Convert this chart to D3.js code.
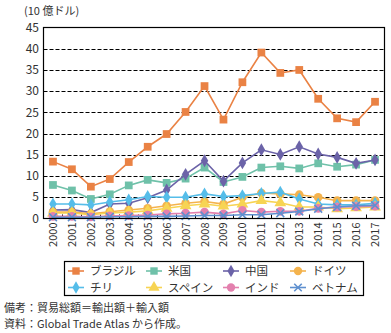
<!DOCTYPE html>
<html>
<head>
<meta charset="utf-8">
<script src="https://cdn.jsdelivr.net/npm/d3@7"></script>
<style>
  body { margin: 0; background: #fff; }
  svg text { font-family: "Noto Sans CJK JP", "Noto Sans", sans-serif; fill: #333; }
</style>
</head>
<body>
<div id="chart-area"></div>
<script>
const years = ["2000","2001","2002","2003","2004","2005","2006","2007","2008","2009",
               "2010","2011","2012","2013","2014","2015","2016","2017"];
const yTicks = [0, 5, 10, 15, 20, 25, 30, 35, 40, 45];

const brazil  = [13.4, 11.6, 7.5, 9.3, 13.3, 16.9, 19.9, 25.1, 31.2, 23.3, 32.1, 39.1, 34.3, 35.0, 28.2, 23.6, 22.7, 27.5];
const usa     = [7.9, 6.6, 4.6, 5.7, 7.8, 9.1, 8.4, 9.4, 12.0, 8.6, 9.8, 12.0, 12.3, 11.8, 13.0, 12.2, 12.7, 13.8];
const china   = [2.0, 2.1, 1.4, 3.4, 3.6, 4.9, 6.7, 10.4, 13.6, 8.8, 13.1, 16.2, 15.1, 16.9, 15.2, 14.4, 13.0, 13.8];
const germany = [1.5, 1.5, 1.1, 1.6, 2.0, 2.4, 3.0, 3.6, 4.0, 3.4, 5.0, 6.0, 5.8, 5.6, 5.0, 4.2, 4.2, 4.2];
const chile   = [3.4, 3.4, 3.2, 3.9, 4.4, 5.2, 5.0, 5.0, 5.8, 5.2, 5.4, 5.9, 6.2, 4.6, 3.4, 3.2, 3.2, 3.6];
const spain   = [1.3, 1.3, 0.9, 1.3, 1.5, 1.8, 2.4, 3.0, 3.4, 2.9, 3.4, 4.2, 3.7, 2.7, 2.7, 2.3, 2.5, 2.7];
const india   = [0.5, 0.5, 0.4, 0.6, 0.7, 0.8, 1.1, 1.25, 1.5, 1.1, 1.9, 1.5, 1.7, 1.7, 2.4, 2.7, 2.8, 2.9];
const vietnam = [0.3, 0.3, 0.3, 0.4, 0.4, 0.5, 0.5, 0.6, 0.7, 0.7, 0.9, 0.9, 1.25, 1.65, 2.3, 2.7, 3.0, 3.1];

const seriesNames = ["ブラジル", "米国", "中国", "ドイツ", "チリ", "スペイン", "インド", "ベトナム"];
const seriesValues = [brazil, usa, china, germany, chile, spain, india, vietnam];
const seriesColors = ["#ea8244", "#6fc1a9", "#6b63a8", "#f4b34d", "#55bde9", "#f7d453", "#e380ae", "#5f90cf"];
const seriesMarkers = ["square", "square", "diamond", "circle", "diamond", "triangle", "circle", "cross"];

const width = 391, height = 333;
const plot = { left: 43.5, right: 384.5, top: 27.5, bottom: 218.5 };

const svg = d3.select("#chart-area")
    .append("svg")
    .attr("width", width)
    .attr("height", height);

const x = d3.scalePoint()
    .domain(years)
    .range([plot.left, plot.right])
    .padding(0.5);

const step = x.step();

const y = d3.scaleLinear()
    .domain([0, 45])
    .range([plot.bottom, plot.top]);

// gridlines
svg.append("g")
    .selectAll("line")
    .data(yTicks.filter(d => d > 0 && d < 45))
    .join("line")
    .attr("x1", plot.left)
    .attr("x2", plot.right)
    .attr("y1", d => Math.round(y(d)) + 0.5)
    .attr("y2", d => Math.round(y(d)) + 0.5)
    .attr("stroke", "#000")
    .attr("stroke-width", 1)
    .attr("stroke-dasharray", "4,2");

// y tick labels
svg.append("g")
    .selectAll("text")
    .data(yTicks)
    .join("text")
    .attr("x", 39)
    .attr("y", d => y(d))
    .attr("dy", "0.35em")
    .attr("text-anchor", "end")
    .attr("font-size", 12)
    .text(d => d);

svg.append("text")
    .attr("x", 24)
    .attr("y", 15)
    .attr("font-size", 11)
    .text("(10 億ドル)");

// category boundary ticks
svg.append("g")
    .selectAll("line")
    .data(d3.range(1, years.length))
    .join("line")
    .attr("x1", i => Math.round(plot.left + i * step) + 0.5)
    .attr("x2", i => Math.round(plot.left + i * step) + 0.5)
    .attr("y1", plot.bottom)
    .attr("y2", plot.bottom - 4)
    .attr("stroke", "#000");

// x labels
svg.append("g")
    .selectAll("text")
    .data(years)
    .join("text")
    .attr("transform", d => "translate(" + (x(d) + 4) + "," + (plot.bottom + 4) + ") rotate(-90)")
    .attr("text-anchor", "end")
    .attr("font-size", 11)
    .text(d => d);

function marker(sel, type, size) {
    const sym = {
        square: d3.symbolSquare,
        diamond: d3.symbolDiamond,
        circle: d3.symbolCircle,
        triangle: d3.symbolTriangle,
        cross: d3.symbolTimes
    }[type];
    sel.attr("d", d3.symbol().type(sym).size(type === "cross" ? size * 0.7 : (type === "diamond" ? size * 0.8 : size))());
}

const line = d3.line()
    .x((d, i) => x(years[i]))
    .y(d => y(d));

seriesValues.forEach((vals, k) => {
    const g = svg.append("g");
    g.append("path")
        .datum(vals)
        .attr("d", line)
        .attr("fill", "none")
        .attr("stroke", seriesColors[k])
        .attr("stroke-width", 1.6);
    g.selectAll("path.pt")
        .data(vals)
        .join("path")
        .attr("class", "pt")
        .attr("transform", (d, i) => "translate(" + x(years[i]) + "," + y(d) + ")")
        .call(marker, seriesMarkers[k], 60)
        .attr("fill", seriesMarkers[k] === "cross" ? "none" : seriesColors[k])
        .attr("stroke", seriesMarkers[k] === "cross" ? seriesColors[k] : "none")
        .attr("stroke-width", 1.6);
});

// plot border
svg.append("rect")
    .attr("x", plot.left)
    .attr("y", plot.top)
    .attr("width", plot.right - plot.left)
    .attr("height", plot.bottom - plot.top)
    .attr("fill", "none")
    .attr("stroke", "#000")
    .attr("stroke-width", 1.2);

// legend
const legend = svg.append("g");
legend.append("rect")
    .attr("x", 64.5)
    .attr("y", 261.5)
    .attr("width", 299)
    .attr("height", 34)
    .attr("fill", "#fff")
    .attr("stroke", "#000")
    .attr("stroke-width", 1.2);

const colX = [68, 146, 223, 290];
const rowY = [271, 287.5];

seriesNames.forEach((name, k) => {
    const cx = colX[k % 4], cy = rowY[Math.floor(k / 4)];
    const item = legend.append("g").attr("transform", "translate(" + cx + "," + cy + ")");
    item.append("line")
        .attr("x1", 0).attr("x2", 16)
        .attr("stroke", seriesColors[k])
        .attr("stroke-width", 1.6);
    item.append("path")
        .attr("transform", "translate(8,0)")
        .call(marker, seriesMarkers[k], 55)
        .attr("fill", seriesMarkers[k] === "cross" ? "none" : seriesColors[k])
        .attr("stroke", seriesMarkers[k] === "cross" ? seriesColors[k] : "none")
        .attr("stroke-width", 1.6);
    item.append("text")
        .attr("x", 22)
        .attr("dy", "0.36em")
        .attr("font-size", 11.5)
        .text(name);
});

svg.append("text")
    .attr("x", 4)
    .attr("y", 312)
    .attr("font-size", 11)
    .text("備考：貿易総額＝輸出額＋輸入額");

svg.append("text")
    .attr("x", 4)
    .attr("y", 327.5)
    .attr("font-size", 11)
    .text("資料：Global Trade Atlas から作成。");
</script>
</body>
</html>
